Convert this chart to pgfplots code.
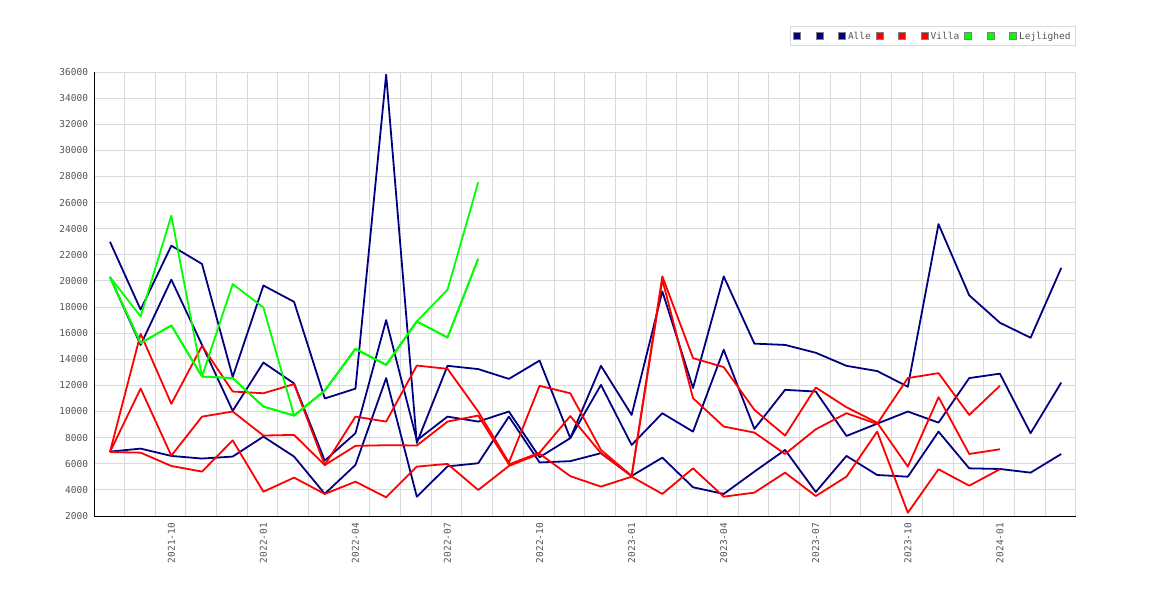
\documentclass[border=0pt]{standalone}
\usepackage{fontspec}
\setmainfont{DejaVu Sans Mono}
\usepackage{pgfplots}
\pgfplotsset{compat=1.18}
\definecolor{navyc}{RGB}{0,0,128}
\definecolor{redc}{RGB}{255,0,0}
\definecolor{limec}{RGB}{0,255,0}
\definecolor{gridc}{RGB}{218,218,218}
\definecolor{txt}{RGB}{85,85,85}
\begin{document}
\begin{tikzpicture}[x=1pt,y=1pt]
\useasboundingbox (0,0) rectangle (1170,600);
\begin{axis}[
  at={(94pt,84pt)}, anchor=south west,
  scale only axis, width=982pt, height=444pt,
  xmin=-0.52, xmax=31.48, ymin=2000, ymax=36000,
  axis x line*=bottom, axis y line*=left,
  axis line style={black, line width=1pt, -},
  xtick={2,5,...,29},
  xticklabels={2021-10,2022-01,2022-04,2022-07,2022-10,2023-01,2023-04,2023-07,2023-10,2024-01},
  minor xtick={0.47,1.47,...,31.47},
  ytick={2000,4000,...,36000},
  xminorgrids=true, xmajorgrids=false, ymajorgrids=true,
  grid style={gridc, line width=0.9pt},
  minor grid style={gridc, line width=0.9pt},
  major tick length=0pt, minor tick length=0pt,
  scaled y ticks=false,
  /pgf/number format/assume math mode=true,
  yticklabel style={/pgf/number format/1000 sep={}},
  tick label style={font=\fontsize{9.5}{11}\selectfont, text=txt},
  xticklabel style={rotate=90, anchor=east, inner sep=0pt, outer sep=7pt},
  yticklabel style={inner sep=0pt, outer sep=6pt},
  legend columns=-1,
  legend style={at={(1,1)}, anchor=south east, yshift=26pt, draw=gridc, line width=0.9pt,
    font=\fontsize{9.5}{11}\selectfont, text=txt, inner xsep=3pt, inner ysep=3.5pt,
    nodes={inner xsep=2pt, inner ysep=1.5pt},
    /tikz/every even column/.append style={column sep=3pt}},
  legend image code/.code={\draw[#1, fill, draw=gray, line width=0.6pt, solid] (0pt,-3.5pt) rectangle (7pt,3.5pt);},
  every axis plot/.append style={line width=1.8pt, line join=round, mark=none},
]
% Alle
\addplot[navyc] coordinates {(0,23000)(1,17800)(2,22700)(3,21300)(4,12650)(5,19650)(6,18400)(7,11000)(8,11750)(9,35800)(10,7600)(11,13500)(12,13250)(13,12500)(14,13900)(15,7960)(16,13500)(17,9740)(18,19200)(19,11800)(20,20350)(21,15200)(22,15100)(23,14500)(24,13500)(25,13100)(26,11900)(27,24350)(28,18900)(29,16800)(30,15650)(31,21000)};
\addplot[navyc] coordinates {(0,20300)(1,15100)(2,20100)(3,15100)(4,10050)(5,13750)(6,12150)(7,6240)(8,8340)(9,17000)(10,7800)(11,9610)(12,9230)(13,10000)(14,6500)(15,7960)(16,12040)(17,7440)(18,9870)(19,8460)(20,14730)(21,8670)(22,11660)(23,11530)(24,8130)(25,9070)(26,10000)(27,9150)(28,12560)(29,12900)(30,8340)(31,12220)};
\addplot[navyc] coordinates {(0,6930)(1,7160)(2,6600)(3,6400)(4,6550)(5,8080)(6,6550)(7,3700)(8,5910)(9,12560)(10,3480)(11,5800)(12,6040)(13,9610)(14,6100)(15,6200)(16,6810)(17,5070)(18,6470)(19,4200)(20,3690)(21,5400)(22,7060)(23,3840)(24,6600)(25,5140)(26,5010)(27,8460)(28,5650)(29,5600)(30,5320)(31,6750)};
% Villa
\addplot[redc] coordinates {(0,6900)(1,15960)(2,10590)(3,15030)(4,11530)(5,11400)(6,12100)(7,5900)(8,9610)(9,9230)(10,13520)(11,13270)(12,10000)(13,6090)(14,11970)(15,11400)(16,7060)(17,5070)(18,20350)(19,14090)(20,13400)(21,10130)(22,8160)(23,11840)(24,10330)(25,9150)(26,5780)(27,11100)(28,6750)(29,7110)};
\addplot[redc] coordinates {(0,6900)(1,11760)(2,6620)(3,9610)(4,10000)(5,8160)(6,8210)(7,5900)(8,7370)(9,7420)(10,7400)(11,9230)(12,9690)(13,5950)(14,6850)(15,9650)(16,6810)(17,5050)(18,20100)(19,11020)(20,8850)(21,8390)(22,6750)(23,8640)(24,9870)(25,9050)(26,12560)(27,12940)(28,9740)(29,11970)};
\addplot[redc] coordinates {(0,6900)(1,6850)(2,5830)(3,5400)(4,7790)(5,3860)(6,4940)(7,3690)(8,4630)(9,3430)(10,5780)(11,5990)(12,3990)(13,5830)(14,6770)(15,5050)(16,4250)(17,5010)(18,3690)(19,5650)(20,3480)(21,3790)(22,5320)(23,3530)(24,5010)(25,8460)(26,2250)(27,5580)(28,4320)(29,5580)};
% Lejlighed
\addplot[limec] coordinates {(0,20300)(1,17280)(2,25000)(3,12680)(4,19760)(5,17970)(6,9690)(7,11600)(8,14800)(9,13570)(10,16900)(11,19330)(12,27550)};
\addplot[limec] coordinates {(0,20300)(1,15240)(2,16590)(3,12680)(4,12560)(5,10380)(6,9690)(7,11600)(8,14800)(9,13570)(10,16900)(11,15670)(12,21700)};
\addplot[limec] coordinates {(0,20300)(1,15240)(2,16590)(3,12680)(4,12560)(5,10380)(6,9690)(7,11600)(8,14800)(9,13570)(10,16900)(11,15670)(12,21700)};
\legend{\hspace*{8pt},\hspace*{8pt},Alle,\hspace*{8pt},\hspace*{8pt},Villa,\hspace*{8pt},\hspace*{8pt},Lejlighed}
\end{axis}
\end{tikzpicture}
\end{document}
